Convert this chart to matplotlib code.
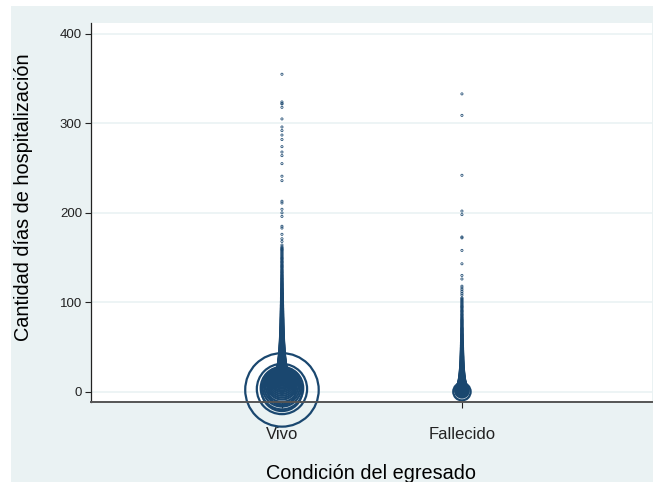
import matplotlib.pyplot as plt
from matplotlib.patches import Rectangle

plt.rcParams['font.family'] = ['Liberation Sans', 'DejaVu Sans']

# Frequency of discharges by length of stay (days), one series per discharge condition
categories = ["Vivo", "Fallecido"]

vivo_days = list(range(0, 121)) + [
    121, 122, 123, 124, 125, 126, 127, 128, 129, 130, 131, 132, 133, 134,
    135, 136, 137, 138, 139, 140, 141, 142, 143, 144, 145, 146, 147, 148,
    149, 150, 151, 152, 153, 154, 155, 156, 157, 158, 159, 160, 161, 162,
    164, 168, 171, 176, 183, 185, 196, 200, 204, 211, 213, 236, 241, 255,
    264, 268, 274, 282, 287, 292, 296, 305, 318, 322, 324, 355]
vivo_counts = [
    1360, 3050, 10000, 4680, 3350, 2770, 2370, 2000, 1660, 1455,
    1260, 1080, 915, 790, 690, 600, 525, 455, 400, 350,
    310, 280, 250, 225, 205, 187, 172, 160, 148, 138,
    128, 120, 112, 105, 100, 95, 88, 83, 78, 74,
    71, 66, 63, 60, 57, 54, 51, 49, 47, 45,
    43, 41, 39, 37, 35, 34, 32, 31, 30, 29, 28,
    27, 26, 25, 24, 23, 22, 21, 20, 20, 19, 18, 18, 17, 16, 16, 15, 15, 14, 14, 14,
    13, 13, 12, 12, 11, 11, 11, 10, 10, 10, 9, 9, 9, 8, 8, 8, 8, 7, 7, 7,
    7, 6, 6, 6, 6, 5, 5, 5, 5, 5, 4, 4, 4, 4, 4, 3, 3, 3, 3, 3,
    3, 2, 3, 2, 2, 3, 2, 2, 2, 2, 2, 1, 2, 2, 1, 2, 1, 1, 2, 1, 2,
    1, 1, 1, 2, 1, 1, 1, 2, 1, 1, 1, 1, 1, 1, 1, 1, 1, 2, 1, 1, 1,
    1, 1, 1, 1, 1, 1, 1, 1, 1, 1, 1, 1, 1, 1,
    1, 1, 1, 1, 1, 1, 1, 1, 1, 2, 1, 1]

fallecido_days = list(range(0, 106)) + [
    108, 110, 112, 114, 116, 118, 126, 130, 143, 158, 172, 173, 198, 202,
    242, 309, 333]
fallecido_counts = [
    560, 340, 290, 250, 217, 187, 166, 146, 128, 111,
    100, 90, 80, 73, 67, 62, 56, 51, 47, 43,
    40, 37, 34, 32, 30, 28, 26, 24, 22, 21, 20,
    19, 18, 17, 16, 15, 14, 14, 13, 13, 12,
    11, 11, 10, 10, 9, 9, 8, 8, 8, 7,
    7, 7, 6, 6, 6, 5, 5, 5, 5, 4,
    4, 4, 4, 4, 3, 3, 3, 3, 3, 3, 3, 2, 2, 2, 2, 2, 2, 2, 2, 2,
    2, 1, 2, 1, 1, 2, 1, 1, 1, 2, 1, 1, 1, 1, 2, 1, 1, 1, 1, 1,
    1, 1, 1, 1, 1,
    1, 1, 1, 1, 1, 1, 1, 1, 1, 1, 1, 1, 1, 1, 1, 1, 1]

yticks = [0, 100, 200, 300, 400]

navy = '#1a476f'
panel = '#eaf2f3'

fig = plt.figure(figsize=(6.57, 4.82), dpi=100, facecolor='white')
# outer graph region
fig.patches.append(Rectangle((11 / 657, 0), 642 / 657, 476 / 482,
                             transform=fig.transFigure, facecolor=panel,
                             edgecolor='none', zorder=-10))

ax = fig.add_axes([91 / 657, 1 - 401.7 / 482, 561 / 657, 378.7 / 482])
ax.set_facecolor('white')

# marker area proportional to frequency (hollow circles)
area_scale = 0.28
for pos, days, counts in [(1, vivo_days, vivo_counts), (2, fallecido_days, fallecido_counts)]:
    sizes = [c * area_scale for c in counts]
    ax.scatter([pos] * len(days), days, s=sizes, facecolors='none',
               edgecolors=navy, linewidths=1.6, clip_on=False, zorder=1)

ax.set_xlim(-0.061, 3.056)
ax.set_ylim(-11.2, 412.3)
ax.set_xticks([1, 2])
ax.set_xticklabels(categories, fontsize=12)
ax.set_yticks(yticks)
ax.set_yticklabels([str(v) for v in yticks], fontsize=9.5)

ax.tick_params(axis='y', length=4.5, width=0.8, pad=2, colors='#222222')
ax.tick_params(axis='x', length=4, width=0.8, pad=14, colors='#222222')
ax.grid(axis='y', color=panel, linewidth=1.2)
ax.set_axisbelow(True)

for side in ['top', 'right']:
    ax.spines[side].set_visible(False)
ax.spines['left'].set_color('#222222')
ax.spines['left'].set_linewidth(0.9)
ax.spines['bottom'].set_color('#555555')
ax.spines['bottom'].set_linewidth(1.4)

ax.set_xlabel("Condición del egresado", fontsize=14.3, labelpad=16)
ax.set_ylabel("Cantidad días de hospitalización", fontsize=14.3, labelpad=19)
ax.yaxis.label.set_y(0.541)

fig.savefig("out.png", dpi=100, facecolor=fig.get_facecolor())
